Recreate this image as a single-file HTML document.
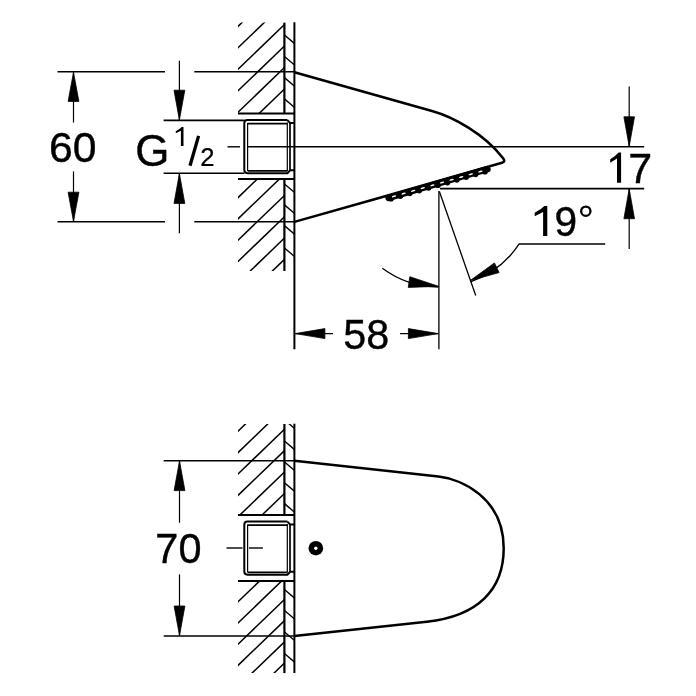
<!DOCTYPE html>
<html><head><meta charset="utf-8"><style>
html,body{margin:0;padding:0;background:#fff;width:696px;height:696px;overflow:hidden}
svg{display:block;will-change:transform}
text{font-family:"Liberation Sans",sans-serif;fill:#000;stroke:none}
</style></head><body>
<svg width="696" height="696" viewBox="0 0 696 696" stroke="#000" stroke-linecap="butt">
<clipPath id="hu0"><rect x="238.0" y="22.6" width="46.39999999999998" height="90.80000000000001"/></clipPath>
<g clip-path="url(#hu0)">
<line x1="233.00" y1="31.21" x2="289.40" y2="-23.10" stroke-width="1.5" />
<line x1="233.00" y1="52.61" x2="289.40" y2="-1.70" stroke-width="1.5" />
<line x1="233.00" y1="74.11" x2="289.40" y2="19.80" stroke-width="1.5" />
<line x1="233.00" y1="95.61" x2="289.40" y2="41.30" stroke-width="1.5" />
<line x1="233.00" y1="117.11" x2="289.40" y2="62.80" stroke-width="1.5" />
<line x1="233.00" y1="138.62" x2="289.40" y2="84.30" stroke-width="1.5" />
</g>
<clipPath id="hl0"><rect x="238.0" y="179.1" width="46.39999999999998" height="91.9"/></clipPath>
<g clip-path="url(#hl0)">
<line x1="233.00" y1="202.41" x2="289.40" y2="148.10" stroke-width="1.5" />
<line x1="233.00" y1="223.72" x2="289.40" y2="169.40" stroke-width="1.5" />
<line x1="233.00" y1="245.01" x2="289.40" y2="190.70" stroke-width="1.5" />
<line x1="233.00" y1="266.31" x2="289.40" y2="212.00" stroke-width="1.5" />
<line x1="233.00" y1="287.62" x2="289.40" y2="233.30" stroke-width="1.5" />
<line x1="233.00" y1="308.92" x2="289.40" y2="254.60" stroke-width="1.5" />
</g>
<clipPath id="su0"><rect x="284.4" y="22.6" width="10.0" height="90.80000000000001"/></clipPath>
<g clip-path="url(#su0)">
<line x1="282.40" y1="33.30" x2="296.40" y2="45.20" stroke-width="1.4" />
<line x1="282.40" y1="54.70" x2="296.40" y2="66.60" stroke-width="1.4" />
<line x1="282.40" y1="75.90" x2="296.40" y2="87.80" stroke-width="1.4" />
<line x1="282.40" y1="97.10" x2="296.40" y2="109.00" stroke-width="1.4" />
</g>
<clipPath id="sl0"><rect x="284.4" y="179.1" width="10.0" height="91.9"/></clipPath>
<g clip-path="url(#sl0)">
<line x1="282.40" y1="182.20" x2="296.40" y2="194.10" stroke-width="1.4" />
<line x1="282.40" y1="203.10" x2="296.40" y2="215.00" stroke-width="1.4" />
<line x1="282.40" y1="223.90" x2="296.40" y2="235.80" stroke-width="1.4" />
<line x1="282.40" y1="246.20" x2="296.40" y2="258.10" stroke-width="1.4" />
</g>
<line x1="284.40" y1="22.60" x2="284.40" y2="113.40" stroke-width="2.2" />
<line x1="284.40" y1="179.10" x2="284.40" y2="271.00" stroke-width="2.2" />
<line x1="294.40" y1="22.30" x2="294.40" y2="349.20" stroke-width="2.0" />
<line x1="238.00" y1="113.40" x2="294.40" y2="113.40" stroke-width="2.0" />
<line x1="238.00" y1="179.10" x2="294.40" y2="179.10" stroke-width="2.0" />
<path d="M287.4 120.10000000000001 L247.4 120.10000000000001 Q244.3 120.10000000000001 244.3 123.2 L244.3 170.10000000000002 Q244.3 173.20000000000002 247.4 173.20000000000002 L287.4 173.20000000000002 L290.1 170.3 L294.4 170.3 M287.4 120.10000000000001 L290.1 123.00000000000001 L294.4 123.00000000000001" stroke-width="2.0" fill="none" />
<line x1="247.60" y1="123.60" x2="287.40" y2="123.60" stroke-width="1.6" />
<line x1="247.60" y1="170.90" x2="287.40" y2="170.90" stroke-width="1.6" />
<line x1="247.60" y1="123.10" x2="247.60" y2="170.90" stroke-width="1.2" />
<line x1="287.30" y1="122.50" x2="287.30" y2="171.00" stroke-width="1.2" />
<line x1="290.00" y1="123.00" x2="290.00" y2="170.30" stroke-width="1.7" />
<line x1="227.50" y1="146.80" x2="240.00" y2="146.80" stroke-width="1.4" />
<line x1="247.30" y1="146.80" x2="644.20" y2="146.80" stroke-width="1.4" />
<line x1="57.50" y1="71.80" x2="165.00" y2="71.80" stroke-width="1.6" />
<line x1="194.30" y1="71.80" x2="294.40" y2="71.80" stroke-width="1.6" />
<line x1="57.50" y1="221.80" x2="165.00" y2="221.80" stroke-width="1.6" />
<line x1="194.30" y1="221.80" x2="294.40" y2="221.80" stroke-width="1.6" />
<line x1="73.50" y1="72.00" x2="73.50" y2="122.50" stroke-width="1.2" />
<line x1="73.50" y1="171.40" x2="73.50" y2="221.60" stroke-width="1.2" />
<path d="M73.50 72.30 L78.90 101.40 L68.10 101.40 Z" fill="#000" stroke="#000" stroke-width="0.8" stroke-linejoin="round"/>
<path d="M73.50 221.30 L68.10 192.20 L78.90 192.20 Z" fill="#000" stroke="#000" stroke-width="0.8" stroke-linejoin="round"/>
<line x1="163.60" y1="120.40" x2="244.50" y2="120.40" stroke-width="1.6" />
<line x1="163.60" y1="173.20" x2="244.50" y2="173.20" stroke-width="1.6" />
<line x1="179.40" y1="60.70" x2="179.40" y2="120.40" stroke-width="1.2" />
<line x1="179.40" y1="173.20" x2="179.40" y2="233.20" stroke-width="1.2" />
<path d="M179.40 120.00 L174.00 90.20 L184.80 90.20 Z" fill="#000" stroke="#000" stroke-width="0.8" stroke-linejoin="round"/>
<path d="M179.40 173.60 L184.80 203.40 L174.00 203.40 Z" fill="#000" stroke="#000" stroke-width="0.8" stroke-linejoin="round"/>
<path d="M294.4 72.3 L432 111 C452.7 116.8 484.5 133.6 503.3 158.6 Q505.8 161.8 502 162.74 L379 198.04 L294.4 221.9" stroke-width="2.5" fill="none" />
<line x1="388.5" y1="197.91" x2="487.5" y2="169.10" stroke-width="6.4" stroke-linecap="round"/>
<circle cx="391.00" cy="198.89" r="2.7" fill="#000" stroke="none"/>
<circle cx="400.40" cy="196.20" r="2.7" fill="#000" stroke="none"/>
<circle cx="409.80" cy="193.50" r="2.7" fill="#000" stroke="none"/>
<circle cx="419.20" cy="190.80" r="2.7" fill="#000" stroke="none"/>
<circle cx="428.60" cy="188.10" r="2.7" fill="#000" stroke="none"/>
<circle cx="438.00" cy="185.40" r="2.7" fill="#000" stroke="none"/>
<circle cx="447.40" cy="182.71" r="2.7" fill="#000" stroke="none"/>
<circle cx="456.80" cy="180.01" r="2.7" fill="#000" stroke="none"/>
<circle cx="466.20" cy="177.31" r="2.7" fill="#000" stroke="none"/>
<circle cx="475.60" cy="174.61" r="2.7" fill="#000" stroke="none"/>
<circle cx="485.00" cy="171.91" r="2.7" fill="#000" stroke="none"/>
<ellipse cx="394.00" cy="196.33" rx="2.3" ry="0.8" fill="#fff" stroke="none" transform="rotate(-16 394.00 196.33)"/>
<ellipse cx="403.60" cy="193.58" rx="2.3" ry="0.8" fill="#fff" stroke="none" transform="rotate(-16 403.60 193.58)"/>
<ellipse cx="413.20" cy="190.82" rx="2.3" ry="0.8" fill="#fff" stroke="none" transform="rotate(-16 413.20 190.82)"/>
<ellipse cx="422.80" cy="188.07" rx="2.3" ry="0.8" fill="#fff" stroke="none" transform="rotate(-16 422.80 188.07)"/>
<ellipse cx="432.40" cy="185.31" rx="2.3" ry="0.8" fill="#fff" stroke="none" transform="rotate(-16 432.40 185.31)"/>
<ellipse cx="442.00" cy="182.56" rx="2.3" ry="0.8" fill="#fff" stroke="none" transform="rotate(-16 442.00 182.56)"/>
<ellipse cx="451.60" cy="179.80" rx="2.3" ry="0.8" fill="#fff" stroke="none" transform="rotate(-16 451.60 179.80)"/>
<ellipse cx="461.20" cy="177.05" rx="2.3" ry="0.8" fill="#fff" stroke="none" transform="rotate(-16 461.20 177.05)"/>
<ellipse cx="470.80" cy="174.29" rx="2.3" ry="0.8" fill="#fff" stroke="none" transform="rotate(-16 470.80 174.29)"/>
<ellipse cx="480.40" cy="171.54" rx="2.3" ry="0.8" fill="#fff" stroke="none" transform="rotate(-16 480.40 171.54)"/>
<line x1="440.00" y1="188.60" x2="644.20" y2="188.60" stroke-width="1.6" />
<line x1="629.20" y1="86.40" x2="629.20" y2="147.00" stroke-width="1.2" />
<line x1="629.20" y1="188.70" x2="629.20" y2="249.00" stroke-width="1.2" />
<path d="M629.20 146.40 L623.90 116.80 L634.50 116.80 Z" fill="#000" stroke="#000" stroke-width="0.8" stroke-linejoin="round"/>
<path d="M629.20 189.00 L634.50 218.70 L623.90 218.70 Z" fill="#000" stroke="#000" stroke-width="0.8" stroke-linejoin="round"/>
<line x1="438.90" y1="191.00" x2="438.90" y2="349.20" stroke-width="1.3" />
<line x1="294.60" y1="333.60" x2="333.00" y2="333.60" stroke-width="1.3" />
<line x1="400.10" y1="333.60" x2="438.50" y2="333.60" stroke-width="1.3" />
<path d="M295.20 333.60 L324.90 328.60 L324.90 338.60 Z" fill="#000" stroke="#000" stroke-width="0.8" stroke-linejoin="round"/>
<path d="M438.40 333.60 L408.40 338.60 L408.40 328.60 Z" fill="#000" stroke="#000" stroke-width="0.8" stroke-linejoin="round"/>
<line x1="439.40" y1="191.50" x2="475.70" y2="295.50" stroke-width="1.3" />
<path d="M382.39 268.19 A95.5 95.5 0 0 0 438.49 287.00" stroke-width="1.3" fill="none" />
<path d="M438.50 286.30 L408.26 287.42 L409.79 276.73 Z" fill="#000" stroke="#000" stroke-width="0.8" stroke-linejoin="round"/>
<path d="M605.2 244.0 L519.17 243.85 A95.5 95.5 0 0 1 470.41 281.79" stroke-width="1.3" fill="none" />
<path d="M470.20 280.60 L494.44 262.90 L499.14 272.62 Z" fill="#000" stroke="#000" stroke-width="0.8" stroke-linejoin="round"/>
<clipPath id="hu1"><rect x="238.0" y="424.0" width="46.39999999999998" height="91.10000000000002"/></clipPath>
<g clip-path="url(#hu1)">
<line x1="233.00" y1="436.01" x2="289.40" y2="381.70" stroke-width="1.5" />
<line x1="233.00" y1="457.42" x2="289.40" y2="403.10" stroke-width="1.5" />
<line x1="233.00" y1="478.81" x2="289.40" y2="424.50" stroke-width="1.5" />
<line x1="233.00" y1="500.21" x2="289.40" y2="445.90" stroke-width="1.5" />
<line x1="233.00" y1="521.62" x2="289.40" y2="467.30" stroke-width="1.5" />
<line x1="233.00" y1="543.02" x2="289.40" y2="488.70" stroke-width="1.5" />
</g>
<clipPath id="hl1"><rect x="238.0" y="581.1" width="46.39999999999998" height="92.0"/></clipPath>
<g clip-path="url(#hl1)">
<line x1="233.00" y1="606.62" x2="289.40" y2="552.30" stroke-width="1.5" />
<line x1="233.00" y1="627.82" x2="289.40" y2="573.50" stroke-width="1.5" />
<line x1="233.00" y1="649.02" x2="289.40" y2="594.70" stroke-width="1.5" />
<line x1="233.00" y1="670.22" x2="289.40" y2="615.90" stroke-width="1.5" />
<line x1="233.00" y1="691.42" x2="289.40" y2="637.10" stroke-width="1.5" />
<line x1="233.00" y1="712.62" x2="289.40" y2="658.30" stroke-width="1.5" />
</g>
<clipPath id="su1"><rect x="284.4" y="424.0" width="10.0" height="91.10000000000002"/></clipPath>
<g clip-path="url(#su1)">
<line x1="282.40" y1="418.10" x2="296.40" y2="430.00" stroke-width="1.4" />
<line x1="282.40" y1="439.30" x2="296.40" y2="451.20" stroke-width="1.4" />
<line x1="282.40" y1="460.20" x2="296.40" y2="472.10" stroke-width="1.4" />
<line x1="282.40" y1="481.00" x2="296.40" y2="492.90" stroke-width="1.4" />
<line x1="282.40" y1="501.90" x2="296.40" y2="513.80" stroke-width="1.4" />
</g>
<clipPath id="sl1"><rect x="284.4" y="581.1" width="10.0" height="92.0"/></clipPath>
<g clip-path="url(#sl1)">
<line x1="282.40" y1="587.80" x2="296.40" y2="599.70" stroke-width="1.4" />
<line x1="282.40" y1="608.70" x2="296.40" y2="620.60" stroke-width="1.4" />
<line x1="282.40" y1="630.20" x2="296.40" y2="642.10" stroke-width="1.4" />
<line x1="282.40" y1="651.80" x2="296.40" y2="663.70" stroke-width="1.4" />
</g>
<line x1="284.40" y1="424.00" x2="284.40" y2="515.10" stroke-width="2.2" />
<line x1="284.40" y1="581.10" x2="284.40" y2="673.10" stroke-width="2.2" />
<line x1="294.40" y1="423.70" x2="294.40" y2="673.00" stroke-width="2.0" />
<line x1="238.00" y1="515.10" x2="294.40" y2="515.10" stroke-width="2.0" />
<line x1="238.00" y1="581.10" x2="294.40" y2="581.10" stroke-width="2.0" />
<path d="M287.4 521.6 L247.4 521.6 Q244.3 521.6 244.3 524.7 L244.3 571.5999999999999 Q244.3 574.6999999999999 247.4 574.6999999999999 L287.4 574.6999999999999 L290.1 571.8 L294.4 571.8 M287.4 521.6 L290.1 524.5 L294.4 524.5" stroke-width="2.0" fill="none" />
<line x1="247.60" y1="525.10" x2="287.40" y2="525.10" stroke-width="1.6" />
<line x1="247.60" y1="572.40" x2="287.40" y2="572.40" stroke-width="1.6" />
<line x1="247.60" y1="524.60" x2="247.60" y2="572.40" stroke-width="1.2" />
<line x1="287.30" y1="524.00" x2="287.30" y2="572.50" stroke-width="1.2" />
<line x1="290.00" y1="524.50" x2="290.00" y2="571.80" stroke-width="1.7" />
<line x1="226.50" y1="548.00" x2="242.50" y2="548.00" stroke-width="1.4" />
<line x1="248.90" y1="548.00" x2="262.90" y2="548.00" stroke-width="1.4" />
<circle cx="315.85" cy="548.2" r="7.3" fill="#000" stroke="none"/><circle cx="315.8" cy="548.3" r="1.7" fill="#fff" stroke="none"/>
<line x1="163.70" y1="460.70" x2="294.40" y2="460.70" stroke-width="1.6" />
<line x1="163.70" y1="636.00" x2="294.40" y2="636.00" stroke-width="1.6" />
<line x1="179.50" y1="461.00" x2="179.50" y2="522.80" stroke-width="1.2" />
<line x1="179.50" y1="574.40" x2="179.50" y2="635.60" stroke-width="1.2" />
<path d="M179.50 461.00 L184.90 490.60 L174.10 490.60 Z" fill="#000" stroke="#000" stroke-width="0.8" stroke-linejoin="round"/>
<path d="M179.50 635.60 L174.10 606.00 L184.90 606.00 Z" fill="#000" stroke="#000" stroke-width="0.8" stroke-linejoin="round"/>
<path d="M294.4 460.7 L438.5 476.6 C460.4 479.0 503.7 497.0 503.7 548.25 C503.7 588.9 478.8 616.1 426.7 621.7 L294.4 636" stroke-width="2.5" fill="none" />
<text transform="matrix(0.9932 0 0 0.9844 48.989 161.531)" font-size="43" style="stroke:#000;stroke-width:0.4">60</text>
<text transform="matrix(1.0204 0 0 1.0107 135.132 166.321)" font-size="43" style="stroke:#000;stroke-width:0.4">G</text>
<path d="M183.50 126.90 L183.50 145.90 L180.90 145.90 L180.90 130.66 L175.80 133.36 L175.80 131.16 Q179.57 129.18 181.73 126.90 Z" stroke-width="0" fill="#000" stroke="none"/>
<line x1="190.00" y1="165.70" x2="198.60" y2="135.90" stroke-width="3.3" />
<text transform="matrix(0.5962 0 0 0.6200 200.133 166.400)" font-size="43" style="stroke:#000;stroke-width:0.4">2</text>
<path d="M621.10 152.40 L621.10 182.70 L617.00 182.70 L617.00 158.40 L610.20 162.70 L610.20 159.19 Q615.54 156.04 618.59 152.40 Z" stroke-width="0" fill="#000" stroke="none"/>
<text transform="matrix(1.0000 0 0 1.0025 628.150 182.500)" font-size="43" style="stroke:#000;stroke-width:0.4">7</text>
<path d="M547.30 206.10 L547.30 236.00 L543.10 236.00 L543.10 212.02 L534.70 216.27 L534.70 212.80 Q540.87 209.69 544.40 206.10 Z" stroke-width="0" fill="#000" stroke="none"/>
<text transform="matrix(0.9459 0 0 0.9844 554.408 235.831)" font-size="43" style="stroke:#000;stroke-width:0.4">9</text>
<circle cx="585.8" cy="211.2" r="4.65" stroke-width="2.3" fill="none"/>
<text transform="matrix(0.9627 0 0 0.9844 343.315 348.631)" font-size="43" style="stroke:#000;stroke-width:0.4">58</text>
<text transform="matrix(0.9641 0 0 0.9811 155.331 562.832)" font-size="43" style="stroke:#000;stroke-width:0.4">70</text>
</svg>
</body></html>
